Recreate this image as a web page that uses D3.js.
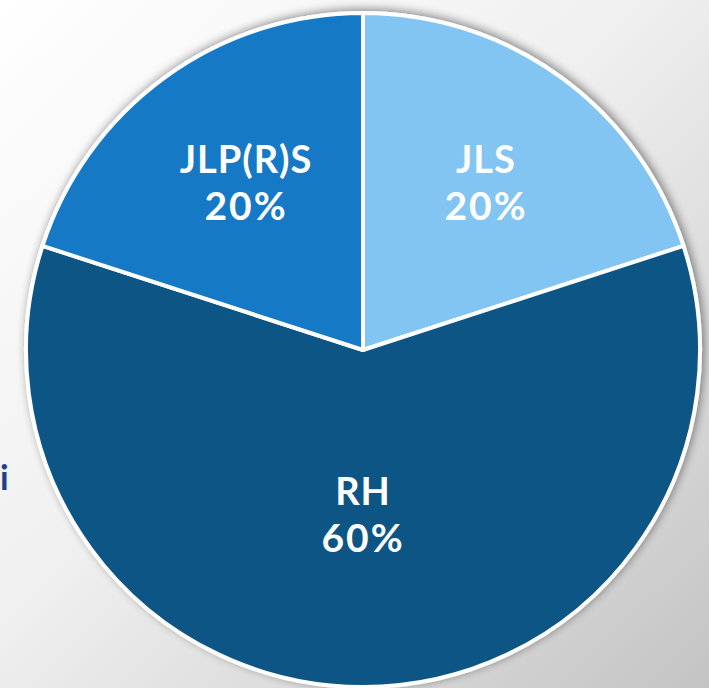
<!DOCTYPE html>
<html><head><meta charset="utf-8">
<script src="https://cdn.jsdelivr.net/npm/d3@7"></script>
<style>html,body{margin:0;padding:0;overflow:hidden;}</style>
</head><body>
<script>
const categories = ["JLS", "RH", "JLP(R)S"];
const values = [20, 60, 20];
const colors = ["#82C5F3", "#0D5585", "#1379C5"];

const W = 709, H = 688;
const cx = 363, cy = 350, R = 337;

const svg = d3.select("body").append("svg").attr("width", W).attr("height", H);
const defs = svg.append("defs");
const bg = defs.append("linearGradient").attr("id","bg").attr("x1","0").attr("y1","0").attr("x2","1").attr("y2","1");
bg.append("stop").attr("offset","0").attr("stop-color","#ffffff");
bg.append("stop").attr("offset","0.45").attr("stop-color","#f0f0f0");
bg.append("stop").attr("offset","1").attr("stop-color","#c4c4c4");
svg.append("rect").attr("width",W).attr("height",H).attr("fill","url(#bg)");

const f = defs.append("filter").attr("id","sh").attr("x","-20%").attr("y","-20%").attr("width","140%").attr("height","140%");
f.append("feGaussianBlur").attr("in","SourceAlpha").attr("stdDeviation",5).attr("result","b");
f.append("feOffset").attr("in","b").attr("dx",2).attr("dy",-2).attr("result","o");
f.append("feComponentTransfer").attr("in","o").attr("result","o2").append("feFuncA").attr("type","linear").attr("slope",0.45);
const m = f.append("feMerge");
m.append("feMergeNode").attr("in","o2");
m.append("feMergeNode").attr("in","SourceGraphic");

svg.append("text").attr("x",0).attr("y",490).attr("fill","#1F3E8E")
  .attr("font-family","Lato, sans-serif").attr("font-weight","bold").attr("font-size",34).text("i");

const pie = d3.pie().sort(null).value(d => d);
const arcs = pie(values);
const arc = d3.arc().innerRadius(0).outerRadius(R);
const g = svg.append("g").attr("transform",`translate(${cx},${cy})`);
const gs = g.append("g").attr("filter","url(#sh)");
gs.selectAll("path").data(arcs).enter().append("path")
  .attr("d", arc).attr("fill",(d,i)=>colors[i])
  .attr("stroke","#ffffff").attr("stroke-width",4).attr("stroke-linejoin","round");

const labelPos = [[123,-177],[0,155],[-117,-177]];
const lg = g.selectAll("g.lbl").data(arcs).enter().append("g")
  .attr("transform",(d,i)=>`translate(${labelPos[i][0]},${labelPos[i][1]})`);
lg.append("text").attr("text-anchor","middle").attr("fill","#fff")
  .attr("font-family","Lato, sans-serif").attr("font-weight","bold").attr("font-size",38)
  .attr("letter-spacing",1).attr("y",0).text((d,i)=>categories[i]);
lg.append("text").attr("text-anchor","middle").attr("fill","#fff")
  .attr("font-family","Lato, sans-serif").attr("font-weight","bold").attr("font-size",39)
  .attr("letter-spacing",2).attr("y",47).text((d,i)=>values[i]+"%");
</script>
</body></html>
